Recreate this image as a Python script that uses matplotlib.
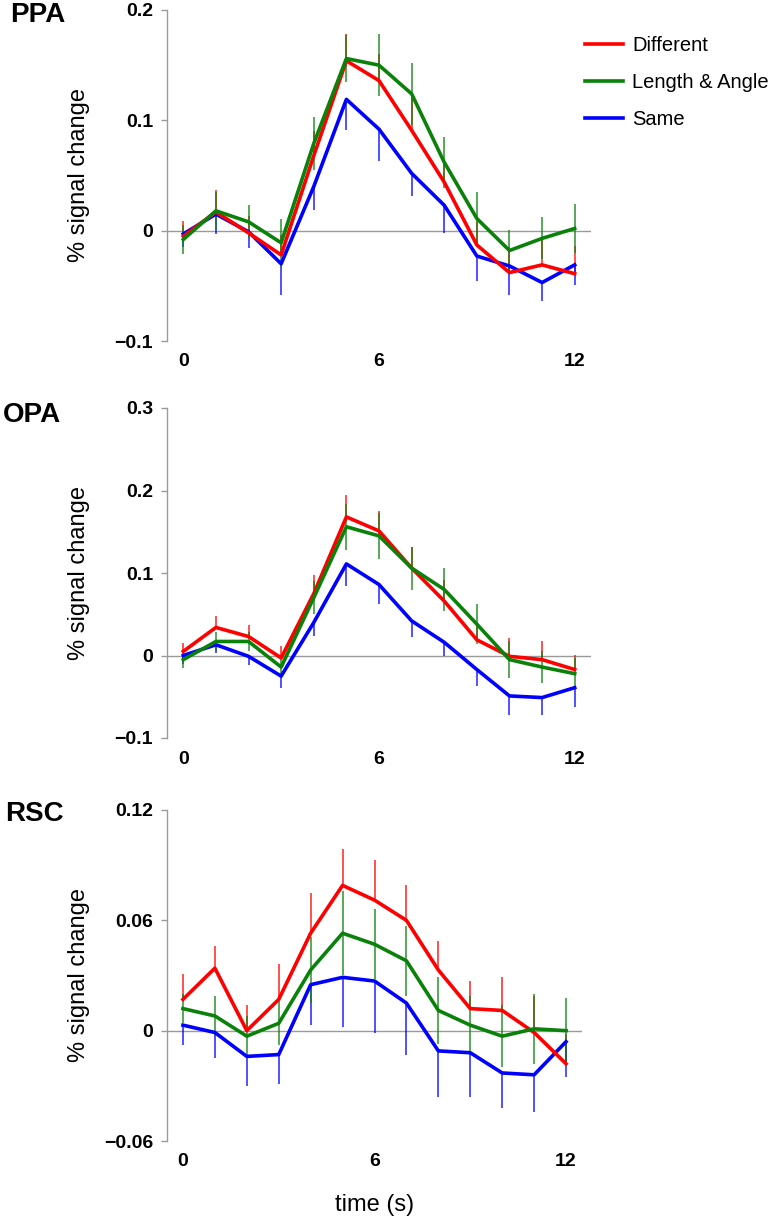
import numpy as np
import matplotlib
matplotlib.use("Agg")
import matplotlib.pyplot as plt

plt.rcParams['font.family'] = ['Liberation Sans', 'DejaVu Sans']

# tiempo (s)
time = np.arange(13)
conditions = ["Different", "Length & Angle", "Same"]
colors = ["#ff0000", "#0a820a", "#0000ff"]

# PPA
ppa_diff = [-0.005, 0.017, -0.002, -0.022, 0.068, 0.154, 0.136, 0.091, 0.044, -0.013, -0.038, -0.031, -0.039]
ppa_len = [-0.008, 0.018, 0.008, -0.011, 0.079, 0.156, 0.150, 0.124, 0.062, 0.011, -0.018, -0.007, 0.002]
ppa_same = [-0.003, 0.015, -0.001, -0.030, 0.040, 0.119, 0.092, 0.052, 0.023, -0.023, -0.032, -0.047, -0.031]
ppa_diff_err = [0.014, 0.020, 0.015, 0.018, 0.022, 0.024, 0.024, 0.030, 0.018, 0.021, 0.023, 0.023, 0.025]
ppa_len_err = [0.013, 0.017, 0.015, 0.022, 0.024, 0.021, 0.028, 0.028, 0.023, 0.024, 0.019, 0.019, 0.022]
ppa_same_err = [0.012, 0.018, 0.015, 0.028, 0.021, 0.028, 0.029, 0.021, 0.025, 0.023, 0.026, 0.017, 0.018]

# OPA
opa_diff = [0.005, 0.034, 0.023, -0.003, 0.075, 0.168, 0.151, 0.106, 0.066, 0.019, -0.001, -0.005, -0.017]
opa_len = [-0.005, 0.017, 0.017, -0.014, 0.070, 0.156, 0.145, 0.106, 0.080, 0.038, -0.005, -0.014, -0.022]
opa_same = [0.000, 0.013, -0.001, -0.025, 0.040, 0.111, 0.086, 0.042, 0.016, -0.017, -0.049, -0.051, -0.039]
opa_diff_err = [0.010, 0.014, 0.014, 0.015, 0.022, 0.026, 0.024, 0.026, 0.025, 0.020, 0.022, 0.023, 0.018]
opa_len_err = [0.010, 0.012, 0.012, 0.012, 0.020, 0.028, 0.028, 0.026, 0.026, 0.024, 0.022, 0.019, 0.019]
opa_same_err = [0.010, 0.010, 0.011, 0.014, 0.016, 0.027, 0.024, 0.020, 0.017, 0.020, 0.023, 0.021, 0.024]

# RSC
rsc_diff = [0.017, 0.034, 0.000, 0.017, 0.053, 0.079, 0.071, 0.060, 0.033, 0.012, 0.011, -0.001, -0.018]
rsc_len = [0.012, 0.008, -0.003, 0.004, 0.033, 0.053, 0.047, 0.038, 0.011, 0.003, -0.003, 0.001, 0.000]
rsc_same = [0.003, -0.001, -0.014, -0.013, 0.025, 0.029, 0.027, 0.015, -0.011, -0.012, -0.023, -0.024, -0.006]
rsc_diff_err = [0.014, 0.012, 0.014, 0.019, 0.022, 0.020, 0.022, 0.019, 0.016, 0.015, 0.018, 0.020, 0.016]
rsc_len_err = [0.008, 0.011, 0.011, 0.012, 0.018, 0.023, 0.019, 0.019, 0.018, 0.016, 0.017, 0.019, 0.018]
rsc_same_err = [0.011, 0.014, 0.016, 0.016, 0.022, 0.027, 0.028, 0.028, 0.025, 0.024, 0.019, 0.020, 0.019]

W, H = 773, 1219
gray = "#9a9a9a"


def draw_panel(ax, diff, length, same, diff_err, len_err, same_err, yticks, ylabels):
    zeros = np.zeros(len(time))
    # barras de error: Different hacia arriba, Same hacia abajo, Length & Angle ambos lados
    ax.errorbar(time, diff, yerr=[zeros, diff_err], fmt='none', ecolor=colors[0], elinewidth=1.2, capsize=0, alpha=0.8)
    ax.errorbar(time, same, yerr=[same_err, zeros], fmt='none', ecolor=colors[2], elinewidth=1.2, capsize=0, alpha=0.8)
    ax.errorbar(time, length, yerr=len_err, fmt='none', ecolor=colors[1], elinewidth=1.2, capsize=0, alpha=0.8)

    ax.axhline(0, color=gray, lw=1.0, zorder=0)
    l3, = ax.plot(time, same, color=colors[2], lw=2.6, label=conditions[2])
    l1, = ax.plot(time, diff, color=colors[0], lw=2.6, label=conditions[0])
    l2, = ax.plot(time, length, color=colors[1], lw=2.6, label=conditions[1])

    ax.set_xlim(-0.5, 12.5)
    ax.set_ylim(yticks[0], yticks[-1])
    ax.set_yticks(yticks)
    ax.set_yticklabels(ylabels, fontweight='bold', fontsize=14)
    ax.set_xticks([0, 6, 12])
    ax.set_xticklabels(["0", "6", "12"], fontweight='bold', fontsize=14)
    ax.tick_params(axis='x', length=0, pad=9)
    ax.tick_params(axis='y', length=4, width=1, color=gray, pad=6)
    for side in ["top", "right", "bottom"]:
        ax.spines[side].set_visible(False)
    ax.spines["left"].set_color(gray)
    ax.spines["left"].set_linewidth(1.0)
    ax.set_ylabel("% signal change", fontsize=17, va='center')
    return [l1, l2, l3]


fig = plt.figure(figsize=(W / 100, H / 100), dpi=100)

ax1 = fig.add_axes([167 / W, 1 - 341 / H, 424 / W, 331 / H])
ax2 = fig.add_axes([167 / W, 1 - 738 / H, 424 / W, 330 / H])
ax3 = fig.add_axes([167 / W, 1 - 1141 / H, 415 / W, 331 / H])

handles = draw_panel(ax1, ppa_diff, ppa_len, ppa_same, ppa_diff_err, ppa_len_err, ppa_same_err,
                     [-0.1, 0, 0.1, 0.2], ["\u22120.1", "0", "0.1", "0.2"])
draw_panel(ax2, opa_diff, opa_len, opa_same, opa_diff_err, opa_len_err, opa_same_err,
           [-0.1, 0, 0.1, 0.2, 0.3], ["\u22120.1", "0", "0.1", "0.2", "0.3"])
draw_panel(ax3, rsc_diff, rsc_len, rsc_same, rsc_diff_err, rsc_len_err, rsc_same_err,
           [-0.06, 0, 0.06, 0.12], ["\u22120.06", "0", "0.06", "0.12"])

ax1.yaxis.set_label_coords((79 - 167) / 424, 0.5)
ax2.yaxis.set_label_coords((79 - 167) / 424, 0.5)
ax3.yaxis.set_label_coords((79 - 167) / 415, 0.5)

ax3.set_xlabel("time (s)", fontsize=17, labelpad=17)

# etiquetas de region
fig.text(10 / W, 1 - 15 / H, "PPA", fontsize=20, fontweight='bold', ha='left', va='center')
fig.text(3 / W, 1 - 415 / H, "OPA", fontsize=20, fontweight='bold', ha='left', va='center')
fig.text(5 / W, 1 - 814 / H, "RSC", fontsize=20, fontweight='bold', ha='left', va='center')

# leyenda
fig.legend(handles=handles, loc='upper left', bbox_to_anchor=(585 / W, 1 - 36 / H),
           frameon=False, fontsize=14.5, handlelength=1.9, handletextpad=0.45,
           labelspacing=0.9, borderpad=0, borderaxespad=0)

plt.savefig("out.png", dpi=100)
plt.close()
